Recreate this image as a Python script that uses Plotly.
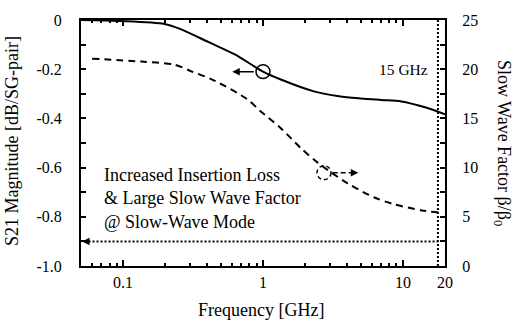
import math
import plotly.graph_objects as go

# ---- data ----
freq_s21 = [0.05, 0.094, 0.198, 0.255, 0.405, 0.634, 1.0, 1.34, 2.31, 3.5, 5.04, 7.0, 9.76, 14.4, 20.0]
s21_mag = [0.0, -0.004, -0.016, -0.036, -0.089, -0.141, -0.21, -0.242, -0.29, -0.31, -0.319, -0.325, -0.331, -0.355, -0.383]

freq_swf = [0.06, 0.1355, 0.234, 0.31, 0.433, 0.773, 0.96, 1.34, 1.86, 2.47, 4.06, 6.26, 8.29, 13.6, 18.1]
swf = [21.07, 20.77, 20.46, 19.76, 18.95, 16.94, 15.73, 14.01, 12.0, 10.48, 8.37, 6.96, 6.35, 5.65, 5.44]

x_tickvals = [0.1, 1, 10, 20]
x_ticktext = ["0.1", "1", "10", "20"]
x_minor = [0.06, 0.07, 0.08, 0.09, 0.2, 0.3, 0.4, 0.5, 0.6, 0.7, 0.8, 0.9,
           2, 3, 4, 5, 6, 7, 8, 9]
y_tickvals = [0, -0.2, -0.4, -0.6, -0.8, -1.0]
y_ticktext = ["0", "-0.2", "-0.4", "-0.6", "-0.8", "-1.0"]
y2_tickvals = [0, 5, 10, 15, 20, 25]

f_cut = 17.8          # drawn position of the "15 GHz" marker line
s21_floor = -0.9      # horizontal dotted marker
circle_s21 = (1.0, -0.21)
circle_swf = (2.73, 9.48)

FONT = "Liberation Serif, Times New Roman, serif"

# plot-area geometry (for circle radii in axis units)
W, H = 523, 320
ML, MR, MT, MB = 81, 78, 18, 54
X_RANGE = [math.log10(0.05), math.log10(20)]
Y_RANGE = [-1.0, 0.0]
Y2_RANGE = [0, 25]
px_per_dec = (W - ML - MR) / (X_RANGE[1] - X_RANGE[0])
R_PX = 7


def circ_x(f):
    k = 10 ** (R_PX / px_per_dec)
    return f / k, f * k


def circ_y(v, rng):
    d = R_PX * (rng[1] - rng[0]) / (H - MT - MB)
    return v - d, v + d


fig = go.Figure()
fig.add_trace(go.Scatter(x=freq_s21, y=s21_mag, mode="lines",
                         line=dict(color="black", width=2, shape="spline", smoothing=0.8),
                         showlegend=False, yaxis="y"))
fig.add_trace(go.Scatter(x=freq_swf, y=swf, mode="lines",
                         line=dict(color="black", width=2, dash="7px,5px", shape="spline", smoothing=0.8),
                         showlegend=False, yaxis="y2"))

# dotted markers
fig.add_shape(type="line", xref="x", yref="paper", x0=f_cut, x1=f_cut, y0=0, y1=1,
              line=dict(color="black", width=2, dash="2px,2px"))
fig.add_shape(type="line", xref="x", yref="y", x0=0.053, x1=f_cut, y0=s21_floor, y1=s21_floor,
              line=dict(color="black", width=2, dash="2px,2px"))
fig.add_annotation(x=math.log10(0.0509), y=s21_floor, xref="x", yref="y", text="",
                   showarrow=True, ax=8, ay=0, arrowhead=2, arrowsize=1, arrowwidth=1.5, arrowcolor="black")

# circles with arrows
x0, x1 = circ_x(circle_s21[0])
y0, y1 = circ_y(circle_s21[1], Y_RANGE)
fig.add_shape(type="circle", xref="x", yref="y", x0=x0, x1=x1, y0=y0, y1=y1,
              line=dict(color="black", width=1.5))
fig.add_annotation(x=math.log10(0.603), y=circle_s21[1], xref="x", yref="y", text="",
                   showarrow=True, ax=23, ay=0, arrowhead=2, arrowsize=1, arrowwidth=1.5, arrowcolor="black")

x0, x1 = circ_x(circle_swf[0])
y0, y1 = circ_y(circle_swf[1], Y2_RANGE)
fig.add_shape(type="circle", xref="x", yref="y2", x0=x0, x1=x1, y0=y0, y1=y1,
              line=dict(color="black", width=1.5, dash="4px,3px"))
fig.add_shape(type="line", xref="x", yref="y2", x0=3.15, x1=4.5, y0=circle_swf[1], y1=circle_swf[1],
              line=dict(color="black", width=1.5, dash="5px,3px"))
fig.add_annotation(x=math.log10(4.8), y=circle_swf[1], xref="x", yref="y2", text="",
                   showarrow=True, ax=-6, ay=0, arrowhead=2, arrowsize=1, arrowwidth=1.5, arrowcolor="black")

# text
fig.add_annotation(xref="paper", yref="paper", x=0.0564, y=0.274, xanchor="left", yanchor="middle",
                   text="Increased Insertion Loss<br>& Large Slow Wave Factor<br>@ Slow-Wave Mode",
                   align="left", showarrow=False, font=dict(family=FONT, size=18, color="black"))
fig.add_annotation(xref="paper", yref="paper", x=0.9587, y=0.798, xanchor="right", yanchor="middle",
                   text="15 GHz", showarrow=False, font=dict(family=FONT, size=15.5, color="black"))
fig.add_annotation(xref="paper", yref="paper", x=0.495, y=-0.177, xanchor="center", yanchor="middle",
                   text="Frequency [GHz]", showarrow=False, font=dict(family=FONT, size=18, color="black"))
fig.add_annotation(xref="paper", yref="paper", x=-0.191, y=0.51, xanchor="center", yanchor="middle",
                   text="S21 Magnitude [dB/SG-pair]", textangle=-90, showarrow=False,
                   font=dict(family=FONT, size=18, color="black"))
fig.add_annotation(xref="paper", yref="paper", x=1.1596, y=0.5, xanchor="center", yanchor="middle",
                   text="Slow Wave Factor β/β<sub>0</sub>", textangle=90, showarrow=False,
                   font=dict(family=FONT, size=18, color="black"))

fig.update_layout(
    width=W, height=H,
    margin=dict(l=ML, r=MR, t=MT, b=MB),
    paper_bgcolor="white", plot_bgcolor="white",
    font=dict(family=FONT, size=16, color="black"),
    xaxis=dict(type="log", range=X_RANGE,
               tickmode="array", tickvals=x_tickvals, ticktext=x_ticktext,
               ticks="inside", ticklen=6, tickwidth=1.5, tickcolor="black",
               minor=dict(tickmode="array", tickvals=x_minor, ticks="inside", ticklen=3,
                          tickwidth=1.5, tickcolor="black"),
               showline=True, linecolor="black", linewidth=2, mirror="ticks",
               showgrid=False, zeroline=False, ticklabelstandoff=1),
    yaxis=dict(range=Y_RANGE, tickmode="array", tickvals=y_tickvals, ticktext=y_ticktext,
               ticks="inside", ticklen=5, tickwidth=1.5, tickcolor="black",
               minor=dict(dtick=0.1, ticks="inside", ticklen=5, tickwidth=1.5, tickcolor="black"),
               showline=True, linecolor="black", linewidth=2,
               showgrid=False, zeroline=False, ticklabelstandoff=14),
    yaxis2=dict(range=Y2_RANGE, overlaying="y", side="right", tickmode="array", tickvals=y2_tickvals,
                ticks="inside", ticklen=5, tickwidth=1.5, tickcolor="black",
                minor=dict(dtick=2.5, ticks="inside", ticklen=5, tickwidth=1.5, tickcolor="black"),
                showline=True, linecolor="black", linewidth=2,
                showgrid=False, zeroline=False, ticklabelstandoff=12),
)

fig.write_html("out.html")
